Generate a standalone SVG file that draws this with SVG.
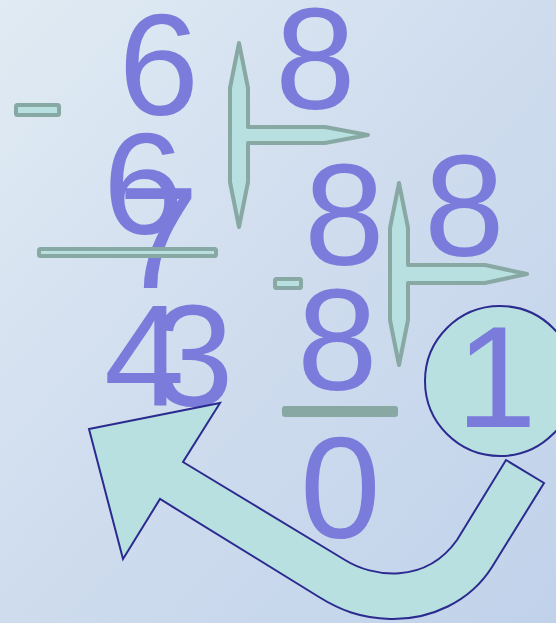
<svg xmlns="http://www.w3.org/2000/svg" width="556" height="623" viewBox="0 0 556 623">
  <defs>
    <linearGradient id="bg" x1="0" y1="0" x2="1" y2="1">
      <stop offset="0" stop-color="#e0ebf3"/>
      <stop offset="0.5" stop-color="#cfdcee"/>
      <stop offset="1" stop-color="#c0d2ea"/>
    </linearGradient>
    <style>
      .num { font-family: "Liberation Sans", Arial, sans-serif; font-size: 145px; fill: #7b7bdb; }
      .bar { fill: #b8e0e0; stroke: #88a8a4; stroke-width: 4; stroke-linejoin: round; }
      .solid { fill: #88a8a4; }
      .shape { fill: #b8e0e0; stroke: #2b2b8f; stroke-width: 2; stroke-linejoin: miter; }
    </style>
  </defs>
  <rect x="0" y="0" width="556" height="623" fill="url(#bg)"/>

  <g id="digits">
    <text class="num" x="118.5" y="115">6</text>
    <text class="num" x="275" y="109">8</text>
    <text class="num" x="103" y="234">6</text>
    <text class="num" x="118" y="288">7</text>
    <text class="num" x="104" y="406">4</text>
    <text class="num" x="153" y="406">3</text>
    <text class="num" x="304" y="265">8</text>
    <text class="num" x="424" y="256">8</text>
    <text class="num" x="297" y="390">8</text>
    <text class="num" x="300" y="538">0</text>
  </g>

  <g id="bracket1">
    <path class="bar" d="M239,43 L248,88 L248,127 L325,127 L368,135 L325,143 L248,143 L248,182 L239,227 L230,182 L230,88 Z"/>
  </g>
  <g id="bracket2">
    <path class="bar" d="M399,183 L408,228 L408,265 L485,265 L527,274 L485,283 L408,283 L408,320 L399,365 L390,320 L390,228 Z"/>
  </g>

  <g id="minus1"><rect class="bar" x="16" y="105" width="43" height="10" rx="1.5"/></g>
  <g id="line1"><rect class="bar" x="39" y="249" width="177" height="7" rx="1.5"/></g>
  <g id="minus2"><rect class="bar" x="275" y="279" width="26" height="9" rx="1.5"/></g>
  <g id="line2"><rect class="solid" x="282" y="406" width="116" height="11" rx="3"/></g>

  <g id="quotient">
    <circle class="shape" cx="500" cy="381" r="75"/>
    <text class="num" x="456" y="427">1</text>
  </g>

  <g id="connectors">
    <path class="shape" d="M89,429 L220,403 L183,462 L345,560 C372,577 425,585 457,540 L506,460 L544,483 L492,567 C470,602 430,620 390,619 C360,618 340,610 319,597 L160,499 L123,559 Z"/>
  </g>
</svg>
